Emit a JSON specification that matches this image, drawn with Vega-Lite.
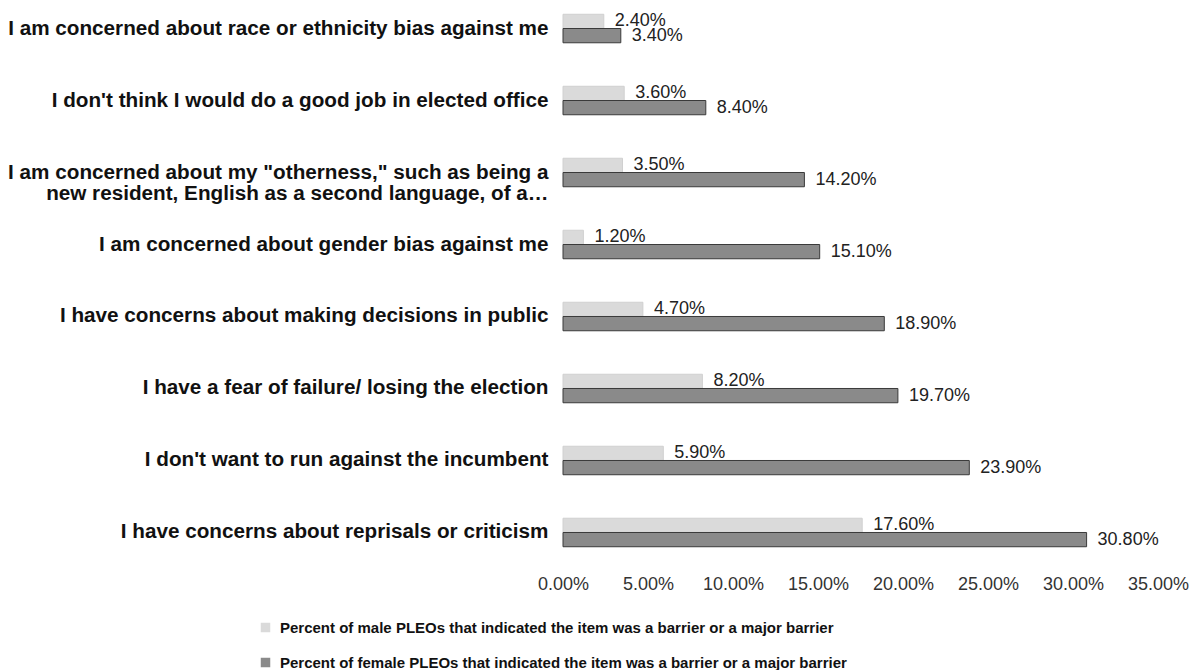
{
  "$schema": "https://vega.github.io/schema/vega-lite/v6.json",
  "width": 595,
  "height": 561,
  "padding": {"left": 7, "top": 0, "right": 0, "bottom": 0},
  "background": "white",
  "data": {
    "values": [
      {"item": "I am concerned about race or ethnicity bias against me", "group": "Percent of male PLEOs that indicated the item was a barrier or a major barrier", "g": 0, "value": 0.024},
      {"item": "I am concerned about race or ethnicity bias against me", "group": "Percent of female PLEOs that indicated the item was a barrier or a major barrier", "g": 1, "value": 0.034},
      {"item": "I don't think I would do a good job in elected office", "group": "Percent of male PLEOs that indicated the item was a barrier or a major barrier", "g": 0, "value": 0.036},
      {"item": "I don't think I would do a good job in elected office", "group": "Percent of female PLEOs that indicated the item was a barrier or a major barrier", "g": 1, "value": 0.084},
      {"item": "I am concerned about my \"otherness,\" such as being a\nnew resident, English as a second language, of a…", "group": "Percent of male PLEOs that indicated the item was a barrier or a major barrier", "g": 0, "value": 0.035},
      {"item": "I am concerned about my \"otherness,\" such as being a\nnew resident, English as a second language, of a…", "group": "Percent of female PLEOs that indicated the item was a barrier or a major barrier", "g": 1, "value": 0.142},
      {"item": "I am concerned about gender bias against me", "group": "Percent of male PLEOs that indicated the item was a barrier or a major barrier", "g": 0, "value": 0.012},
      {"item": "I am concerned about gender bias against me", "group": "Percent of female PLEOs that indicated the item was a barrier or a major barrier", "g": 1, "value": 0.151},
      {"item": "I have concerns about making decisions in public", "group": "Percent of male PLEOs that indicated the item was a barrier or a major barrier", "g": 0, "value": 0.047},
      {"item": "I have concerns about making decisions in public", "group": "Percent of female PLEOs that indicated the item was a barrier or a major barrier", "g": 1, "value": 0.189},
      {"item": "I have a fear of failure/  losing the election", "group": "Percent of male PLEOs that indicated the item was a barrier or a major barrier", "g": 0, "value": 0.082},
      {"item": "I have a fear of failure/  losing the election", "group": "Percent of female PLEOs that indicated the item was a barrier or a major barrier", "g": 1, "value": 0.197},
      {"item": "I don't want to run against the incumbent", "group": "Percent of male PLEOs that indicated the item was a barrier or a major barrier", "g": 0, "value": 0.059},
      {"item": "I don't want to run against the incumbent", "group": "Percent of female PLEOs that indicated the item was a barrier or a major barrier", "g": 1, "value": 0.239},
      {"item": "I have concerns about reprisals or criticism", "group": "Percent of male PLEOs that indicated the item was a barrier or a major barrier", "g": 0, "value": 0.176},
      {"item": "I have concerns about reprisals or criticism", "group": "Percent of female PLEOs that indicated the item was a barrier or a major barrier", "g": 1, "value": 0.308}
    ]
  },
  "encoding": {
    "y": {
      "field": "item",
      "type": "nominal",
      "sort": null,
      "scale": {"paddingInner": 0.604, "paddingOuter": 0.198},
      "axis": {
        "title": null,
        "domain": false,
        "ticks": false,
        "labelPadding": 15,
        "labelFont": "Liberation Sans",
        "labelFontWeight": "bold",
        "labelFontSize": 20.7,
        "labelColor": "#111111",
        "labelLimit": 700,
        "labelLineHeight": 21,
        "labelExpr": "split(datum.label, '\\n')"
      }
    },
    "yOffset": {"field": "g", "type": "nominal", "scale": {"paddingInner": 0}},
    "x": {
      "field": "value",
      "type": "quantitative",
      "scale": {"domain": [0, 0.35], "nice": false},
      "axis": {
        "title": null,
        "format": ".2%",
        "values": [0, 0.05, 0.1, 0.15, 0.2, 0.25, 0.3, 0.35],
        "domain": false,
        "ticks": false,
        "grid": false,
        "labelFont": "Liberation Sans",
        "labelFontSize": 18,
        "labelColor": "#333333",
        "labelPadding": 14,
        "labelFlush": false
      }
    }
  },
  "layer": [
    {
      "mark": {"type": "bar", "strokeWidth": 1},
      "encoding": {
        "color": {
          "field": "group",
          "type": "nominal",
          "sort": null,
          "scale": {"range": ["#dadada", "#8a8a8a"]},
          "legend": {
            "title": null,
            "orient": "none",
            "legendX": -305,
            "legendY": 620,
            "direction": "vertical",
            "labelFont": "Liberation Sans",
            "labelFontWeight": "bold",
            "labelFontSize": 15,
            "labelColor": "#111111",
            "labelLimit": 800,
            "symbolType": "square",
            "symbolSize": 90,
            "rowPadding": 19,
            "labelOffset": 7
          }
        },
        "stroke": {
          "field": "g",
          "type": "nominal",
          "scale": {"range": ["#d0d0d0", "#3a3a3a"]},
          "legend": null
        }
      }
    },
    {
      "mark": {"type": "text", "align": "left", "baseline": "middle", "dx": 11, "font": "Liberation Sans", "fontSize": 18, "color": "#222222"},
      "encoding": {
        "text": {"field": "value", "type": "quantitative", "format": ".2%"},
        "yOffset": {"field": "g", "type": "nominal", "scale": {"paddingInner": 0}}
      }
    }
  ],
  "config": {"view": {"stroke": null}}
}
